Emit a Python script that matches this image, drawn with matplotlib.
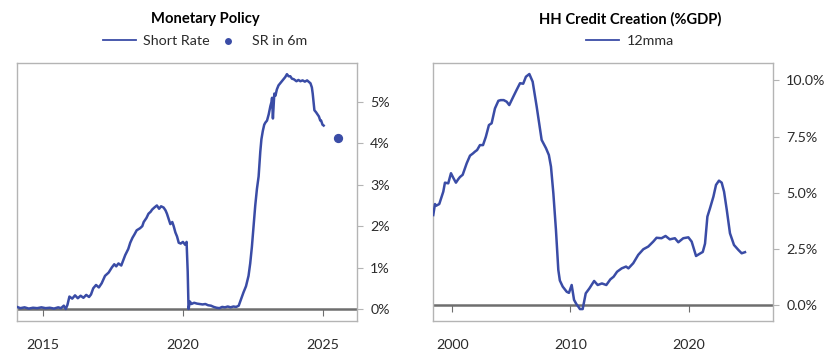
import numpy as np
import matplotlib.pyplot as plt
from matplotlib.ticker import FuncFormatter

plt.rcParams['font.family'] = ['Lato', 'DejaVu Sans']
plt.rcParams['font.size'] = 10.3

BLUE = '#3a4ca6'
BOX = '#b4b4b4'
ZERO = '#6e6e6e'
TXT = '#2b2b2b'

# Short rate (% )
sr_year = [2014.08, 2014.2, 2014.35, 2014.5, 2014.65, 2014.8, 2014.95, 2015.1, 2015.25, 2015.4,
           2015.55, 2015.65, 2015.75, 2015.82, 2015.88, 2015.95, 2016.05, 2016.15, 2016.25,
           2016.35, 2016.45, 2016.55, 2016.65, 2016.72, 2016.8, 2016.9, 2017.0, 2017.1,
           2017.22, 2017.35, 2017.46, 2017.55, 2017.62, 2017.7, 2017.8, 2017.94, 2018.05,
           2018.12, 2018.2, 2018.27, 2018.35, 2018.47, 2018.55, 2018.6, 2018.7, 2018.77,
           2018.85, 2018.9, 2018.98, 2019.07, 2019.15, 2019.22, 2019.31, 2019.38, 2019.43,
           2019.5, 2019.55, 2019.62, 2019.67, 2019.73, 2019.79, 2019.85, 2019.92, 2020.0,
           2020.08, 2020.13, 2020.17, 2020.2, 2020.25, 2020.3, 2020.4, 2020.5, 2020.6, 2020.7,
           2020.8, 2020.9, 2021.0, 2021.1, 2021.2, 2021.3, 2021.4, 2021.5, 2021.6, 2021.7,
           2021.8, 2021.9, 2021.99, 2022.08, 2022.16, 2022.25, 2022.34, 2022.4, 2022.46,
           2022.52, 2022.58, 2022.64, 2022.7, 2022.76, 2022.8, 2022.85, 2022.9, 2022.94,
           2023.0, 2023.06, 2023.12, 2023.16, 2023.18, 2023.21, 2023.26, 2023.3, 2023.35,
           2023.41, 2023.47, 2023.53, 2023.59, 2023.65, 2023.71, 2023.77, 2023.83, 2023.89,
           2023.95, 2024.05, 2024.12, 2024.19, 2024.27, 2024.35, 2024.43, 2024.5, 2024.55,
           2024.6, 2024.63, 2024.66, 2024.69, 2024.75, 2024.8, 2024.85, 2024.9, 2024.93,
           2024.98, 2025.02]
sr_val = [0.05, 0.02, 0.04, 0.01, 0.03, 0.02, 0.04, 0.02, 0.03, 0.01,
          0.04, 0.02, 0.08, 0.0, 0.1, 0.3, 0.25, 0.33, 0.26,
          0.32, 0.27, 0.34, 0.29, 0.35, 0.5, 0.58, 0.52, 0.62,
          0.8, 0.88, 1.0, 1.08, 1.03, 1.1, 1.05, 1.3, 1.45,
          1.6, 1.72, 1.8, 1.9, 1.95, 2.0, 2.1, 2.2, 2.3,
          2.35, 2.4, 2.45, 2.5, 2.42, 2.48, 2.45, 2.38, 2.3,
          2.15, 2.05, 2.1, 2.0, 1.85, 1.75, 1.6, 1.58, 1.62,
          1.55, 1.62, 0.9, 0.0, 0.18, 0.12, 0.15, 0.13, 0.12, 0.11,
          0.12, 0.09, 0.08, 0.05, 0.03, 0.02, 0.05, 0.04, 0.06, 0.04,
          0.06, 0.05, 0.08, 0.25, 0.4, 0.55, 0.8, 1.1, 1.5,
          2.0, 2.5, 2.9, 3.2, 3.8, 4.1, 4.3, 4.45, 4.5,
          4.55, 4.7, 4.9, 5.0, 5.1, 4.6, 5.2, 5.15, 5.3,
          5.4, 5.45, 5.5, 5.55, 5.6, 5.67, 5.62, 5.62, 5.56,
          5.55, 5.5, 5.53, 5.5, 5.52, 5.49, 5.52, 5.48, 5.45,
          5.35, 5.2, 5.0, 4.8, 4.75, 4.7, 4.65, 4.55, 4.55,
          4.45, 4.43]
sr6_year = [2025.54]
sr6_val = [4.14]

# HH credit creation, 12mma (% GDP)
hh_year = [1998.39, 1998.54, 1998.62, 1998.9, 1999.24, 1999.38, 1999.66, 1999.89, 2000.1,
           2000.31, 2000.5, 2000.65, 2000.88, 2001.22, 2001.5, 2001.75, 2001.92, 2002.1, 2002.34,
           2002.6, 2002.84, 2003.1, 2003.33, 2003.61, 2003.9, 2004.1, 2004.35, 2004.6,
           2004.82, 2005.16, 2005.44, 2005.73, 2006.0, 2006.23, 2006.52, 2006.8, 2007.14,
           2007.56, 2007.93, 2008.17, 2008.35, 2008.55, 2008.77, 2008.97, 2009.1, 2009.34,
           2009.68, 2009.87, 2010.1, 2010.3, 2010.5, 2010.66, 2010.8, 2011.03, 2011.29,
           2011.6, 2012.0, 2012.3, 2012.66, 2013.03, 2013.37, 2013.65, 2013.94, 2014.33,
           2014.7, 2014.9, 2015.31, 2015.73, 2016.16, 2016.58, 2017.0, 2017.28, 2017.7,
           2018.04, 2018.4, 2018.83, 2019.12, 2019.54, 2019.97, 2020.25, 2020.62, 2020.96,
           2021.19, 2021.38, 2021.58, 2021.8, 2022.09, 2022.31, 2022.56, 2022.79, 2022.99,
           2023.22, 2023.49, 2023.83, 2024.2, 2024.48, 2024.76]
hh_val = [4.01, 4.5, 4.42, 4.5, 5.05, 5.45, 5.42, 5.87, 5.65,
          5.45, 5.6, 5.7, 5.8, 6.31, 6.65, 6.75, 6.83, 6.9, 7.12,
          7.12, 7.49, 8.01, 8.09, 8.75, 9.09, 9.12, 9.12, 9.05,
          8.9, 9.27, 9.57, 9.87, 9.85, 10.16, 10.28, 9.94, 8.83,
          7.35, 6.98, 6.68, 6.16, 4.98, 3.35, 1.57, 1.1, 0.83,
          0.6, 0.55, 0.9, 0.24, 0.05, -0.06, -0.17, -0.17, 0.53,
          0.75, 1.08, 0.9, 0.97, 0.9, 1.15, 1.27, 1.49, 1.64,
          1.72, 1.64, 1.87, 2.24, 2.49, 2.61, 2.83, 3.0, 2.98,
          3.08, 2.93, 2.98, 2.8, 2.98, 3.02, 2.83, 2.19, 2.3,
          2.37, 2.74, 3.94, 4.31, 4.83, 5.35, 5.54, 5.45, 5.05,
          4.24, 3.2, 2.68, 2.46, 2.31, 2.36]


def style(ax, xlim, ylim, xticks, yticks, fmt):
    ax.set_xlim(xlim)
    ax.set_ylim(ylim)
    for s in ax.spines.values():
        s.set_color(BOX)
        s.set_linewidth(1.0)
    ax.axhline(0, color=ZERO, lw=1.8, zorder=1)
    ax.yaxis.tick_right()
    ax.set_yticks(yticks)
    ax.yaxis.set_major_formatter(FuncFormatter(fmt))
    ax.tick_params(axis='y', right=True, left=False, length=4.5, width=0.8,
                   color=BOX, pad=5, labelcolor=TXT, labelsize=10.3)
    ax.set_xticks(xticks)
    ax.tick_params(axis='x', length=0, pad=13, labelcolor=TXT, labelsize=10.3)
    # tick marks hanging from the zero line
    frac = (0 - ylim[0]) / (ylim[1] - ylim[0])
    sec = ax.secondary_xaxis(frac)
    sec.set_xticks(xticks)
    sec.tick_params(axis='x', length=5, width=0.8, color=ZERO, labelbottom=False)
    sec.spines['bottom'].set_visible(False)


fig = plt.figure(figsize=(8.4, 3.61), dpi=100)

ax1 = fig.add_axes([17 / 840, 1 - 321 / 361, 340 / 840, 258 / 361])
ax1.plot(sr_year, sr_val, color=BLUE, lw=1.8, label='Short Rate', zorder=3)
ax1.scatter(sr6_year, sr6_val, s=32, color=BLUE, label='SR in 6m', zorder=3)
style(ax1, (2014.08, 2026.21), (-0.29, 5.94), [2015, 2020, 2025],
      [0, 1, 2, 3, 4, 5], lambda v, p: '%d%%' % v)

ax2 = fig.add_axes([433 / 840, 1 - 321 / 361, 340 / 840, 258 / 361])
ax2.plot(hh_year, hh_val, color=BLUE, lw=1.8, label='12mma', zorder=3)
style(ax2, (1998.37, 2027.13), (-0.70, 10.77), [2000, 2010, 2020],
      [0, 2.5, 5, 7.5, 10], lambda v, p: '%.1f%%' % v)

fig.text(205 / 840, 1 - 19 / 361, 'Monetary Policy', ha='center', va='center',
         fontweight='bold', fontsize=10.6, color='black')
fig.text(630 / 840, 1 - 19 / 361, 'HH Credit Creation (%GDP)', ha='center', va='center',
         fontweight='bold', fontsize=10.6, color='black')

h1, l1 = ax1.get_legend_handles_labels()
leg1 = fig.legend(h1, l1, loc='center', bbox_to_anchor=(205 / 840, 1 - 41 / 361), ncol=2,
                  frameon=False, handlelength=2.3, columnspacing=0.15, handletextpad=0.5,
                  markerscale=0.7, fontsize=10.3, labelcolor=TXT)
leg1.get_lines()[0].set_linewidth(1.3)
h2, l2 = ax2.get_legend_handles_labels()
leg2 = fig.legend(h2, l2, loc='center', bbox_to_anchor=(630 / 840, 1 - 41 / 361),
                  frameon=False, handlelength=2.3, handletextpad=0.5,
                  fontsize=10.3, labelcolor=TXT)
leg2.get_lines()[0].set_linewidth(1.3)

fig.savefig('out.png', dpi=100)
